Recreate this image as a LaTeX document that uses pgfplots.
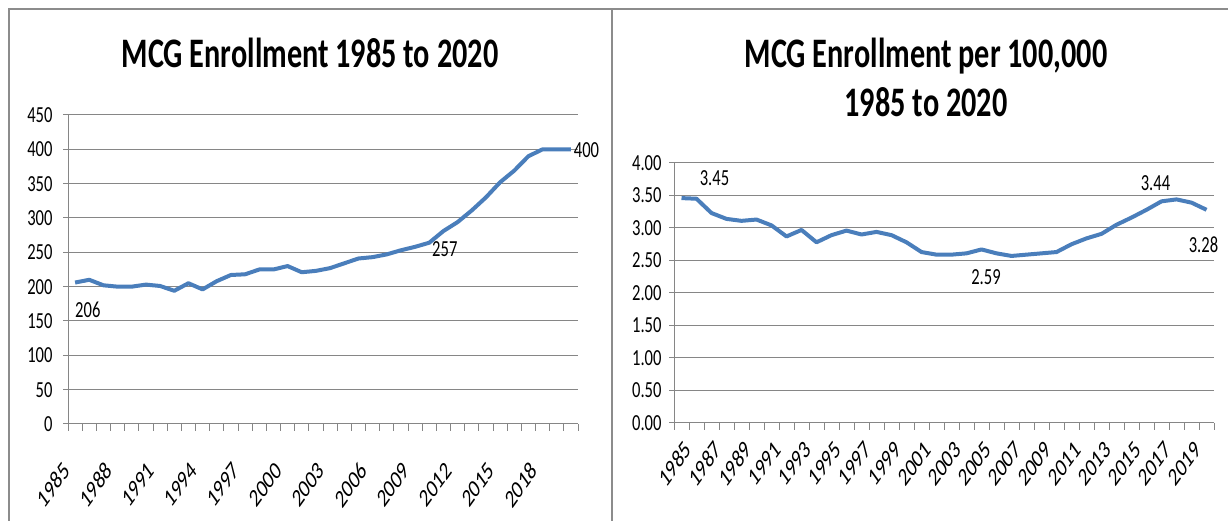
\documentclass[border=0pt]{standalone}
\usepackage{pgfplots}
\pgfplotsset{compat=1.18}
\usepackage{fontspec}
\setmainfont{Carlito}[FakeStretch=0.72]
\newfontfamily\xlabfont{Carlito}
\definecolor{series}{HTML}{4A7EBB}
\definecolor{gridc}{HTML}{868686}
\definecolor{framec}{HTML}{8C8C8C}

\pgfplotstableread{
year value
1985 206
1986 210
1987 202
1988 200
1989 200
1990 203
1991 201
1992 194
1993 205
1994 196
1995 208
1996 217
1997 218
1998 225
1999 225
2000 230
2001 221
2002 223
2003 227
2004 234
2005 241
2006 243
2007 247
2008 253
2009 258
2010 264
2011 281
2012 294
2013 311
2014 330
2015 352
2016 369
2017 390
2018 400
2019 400
2020 400
}\enroll

\pgfplotstableread{
year value
1985 3.46
1986 3.45
1987 3.23
1988 3.14
1989 3.11
1990 3.13
1991 3.04
1992 2.87
1993 2.97
1994 2.78
1995 2.89
1996 2.96
1997 2.90
1998 2.94
1999 2.89
2000 2.78
2001 2.63
2002 2.59
2003 2.59
2004 2.61
2005 2.67
2006 2.61
2007 2.57
2008 2.59
2009 2.61
2010 2.63
2011 2.75
2012 2.84
2013 2.91
2014 3.05
2015 3.16
2016 3.28
2017 3.41
2018 3.44
2019 3.39
2020 3.28
}\perhk

\pgfplotsset{excel/.style={
  scale only axis,
  anchor=south west,
  axis lines*=left,
  axis line style={draw=gridc, line width=1pt, -},
  ymajorgrids,
  grid style={draw=gridc, line width=1pt},
  every major x tick/.append style={draw=none},
  every minor x tick/.append style={draw=gridc, line width=1pt},
  every y tick/.append style={draw=gridc, line width=1pt},
  tick align=outside,
  major tick length=5pt,
  minor tick length=7pt,
  xmin=1984.5, xmax=2020.5,
  minor xtick={1984.5,1985.5,...,2020.5},
  yticklabel style={font=\fontsize{23}{26}\selectfont, text=black},
  clip=false,
},
xlabs/.style 2 args={xticklabel style={font=\xlabfont\fontsize{25.5}{27}\selectfont, text=black,
  inner sep=0pt, anchor=north east, xshift=#1, yshift=#2, xscale=0.72, rotate=45}},
datalabels/.style={draw=none, mark=none, nodes near coords, point meta=explicit symbolic,
  every node near coord/.append style={anchor=center, inner sep=0pt, font=\fontsize{23}{26}\selectfont, text=black}},
}

\begin{document}
\begin{tikzpicture}[x=1pt,y=1pt]
\useasboundingbox (0,0) rectangle (1228,521);
% panel frame
\draw[framec, line width=2pt] (9,0) -- (9,512) -- (1228,512);
\draw[framec, line width=2.5pt] (612,0) -- (612,512);
% titles
\node[font=\fontsize{42}{50}\selectfont\bfseries, anchor=base] at (310,453) {MCG Enrollment 1985 to 2020};
\node[font=\fontsize{42}{50}\selectfont\bfseries, anchor=base] at (926,453) {MCG Enrollment per 100,000};
\node[font=\fontsize{42}{50}\selectfont\bfseries, anchor=base] at (926,404) {1985 to 2020};

\begin{axis}[excel, xlabs={-13pt}{-31pt}, at={(68pt,97pt)}, width=510pt, height=309pt,
  yticklabel style={xshift=-7pt},
  ymin=0, ymax=450, ytick={0,50,100,150,200,250,300,350,400,450},
  yticklabels={0,50,100,150,200,250,300,350,400,450},
  xtick={1985,1988,1991,1994,1997,2000,2003,2006,2009,2012,2015,2018},
  xticklabels={1985,1988,1991,1994,1997,2000,2003,2006,2009,2012,2015,2018}]
\addplot[series, line width=4pt, line join=round] table[x=year, y=value] {\enroll};
\addplot[datalabels] coordinates {(1985.9,166) [206] (2011.1,254.8) [257] (2021.1,399) [400]};
\end{axis}

\begin{axis}[excel, xlabs={2pt}{-11pt}, at={(674pt,98pt)}, width=540pt, height=260pt,
  yticklabel style={xshift=-4pt},
  ymin=0, ymax=4, ytick={0,0.5,1,1.5,2,2.5,3,3.5,4},
  yticklabels={0.00,0.50,1.00,1.50,2.00,2.50,3.00,3.50,4.00},
  xtick={1985,1987,...,2019},
  xticklabels={1985,1987,1989,1991,1993,1995,1997,1999,2001,2003,2005,2007,2009,2011,2013,2015,2017,2019}]
\addplot[series, line width=4pt, line join=round] table[x=year, y=value] {\perhk};
\addplot[datalabels] coordinates {(1987.2,3.77) [3.45] (2016.6,3.69) [3.44] (2019.8,2.75) [3.28] (2005.3,2.25) [2.59]};
\end{axis}
\end{tikzpicture}
\end{document}
